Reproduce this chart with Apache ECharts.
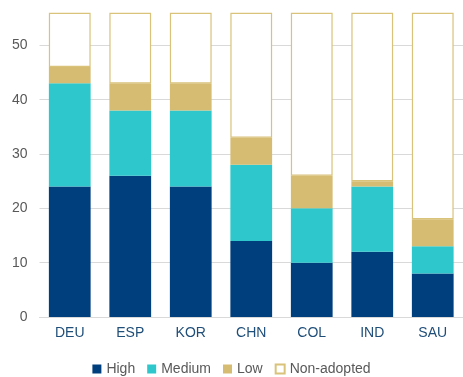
<!DOCTYPE html>
<html><head><meta charset="utf-8">
<script src="https://cdn.jsdelivr.net/npm/echarts@6/dist/echarts.min.js"></script>
<style>html,body{margin:0;padding:0;background:#fff}#c{width:463px;height:377px}</style>
</head><body><div id="c"></div>
<script>
const categories = ['DEU','ESP','KOR','CHN','COL','IND','SAU'];
const high = [24, 26, 24, 14, 10, 12, 8];
const medium = [19, 12, 14, 14, 10, 12, 5];
const low = [3, 5, 5, 5, 6, 1, 5];
const nonAdopted = [10, 13, 13, 23, 30, 31, 38];
const yTicks = [0, 10, 20, 30, 40, 50];

const chart = echarts.init(document.getElementById('c'));
const font = 'Liberation Sans, Arial, sans-serif';
function bar(name, data, style) {
  return { name, type: 'bar', stack: 'a', data, barWidth: '69%', itemStyle: style, emphasis: { disabled: true } };
}
chart.setOption({
  animation: false,
  grid: { left: 39.5, right: -3, top: 12.7, bottom: 60 },
  legend: {
    top: 357, left: 'center', itemWidth: 9, itemHeight: 9, itemGap: 12, icon: 'rect',
    textStyle: { color: '#595959', fontSize: 14, fontFamily: font },
    data: ['High', 'Medium', 'Low', 'Non-adopted']
  },
  xAxis: {
    type: 'category', data: categories,
    axisLine: { lineStyle: { color: '#d9d9d9' } },
    axisTick: { show: false },
    axisLabel: { color: '#1f4e79', fontSize: 14, fontFamily: font, margin: 9 }
  },
  yAxis: {
    type: 'value', min: 0, max: 56, interval: 10,
    axisLabel: { color: '#595959', fontSize: 14, fontFamily: font, showMaxLabel: false, margin: 12,
      formatter: v => yTicks.includes(v) ? String(v) : '' },
    splitLine: { lineStyle: { color: '#d9d9d9' }, showMaxLine: false },
    axisLine: { show: false }, axisTick: { show: false }
  },
  series: [
    bar('High', high, { color: '#003f7d' }),
    bar('Medium', medium, { color: '#2ec8cc' }),
    bar('Low', low, { color: '#d6bc72' }),
    bar('Non-adopted', nonAdopted, { color: '#ffffff', borderColor: '#d9c27a', borderWidth: 1.2 })
  ]
});
</script></body></html>
